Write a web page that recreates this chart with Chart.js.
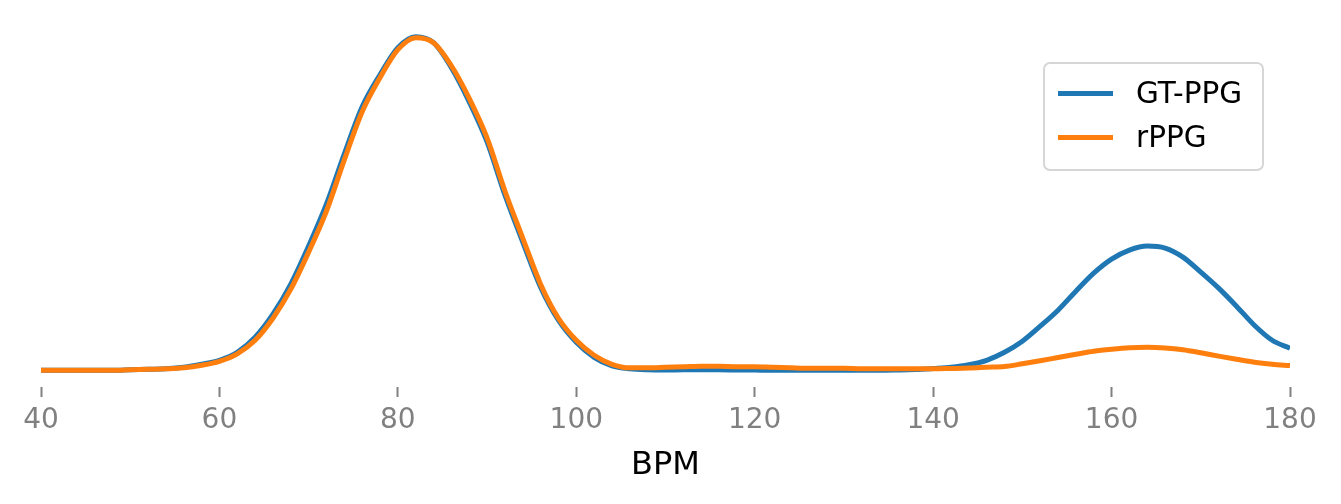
<!DOCTYPE html>
<html>
<head>
<meta charset="utf-8">
<script src="https://cdn.jsdelivr.net/npm/chart.js@4.4.1/dist/chart.umd.min.js"></script>
<style>
  html, body { margin: 0; padding: 0; background: #ffffff; }
  #wrap { position: relative; width: 1341px; height: 504px; }
  #legend {
    position: absolute; left: 1043px; top: 62px; width: 217px; height: 105px;
    border: 2px solid #d6d6d6; border-radius: 7px; background: rgba(255,255,255,0.8);
    font-family: 'DejaVu Sans', sans-serif; font-size: 29.5px; color: #000;
  }
  .sw { position: absolute; left: 13px; width: 55px; height: 5px; }
  .lb { position: absolute; left: 91px; line-height: 34px; white-space: nowrap; }
</style>
</head>
<body>
<div id="wrap">
  <canvas id="c" width="1341" height="504"></canvas>
  <div id="legend">
    <div class="sw" style="top:27px;background:#1f77b4"></div>
    <div class="lb" style="top:12px">GT-PPG</div>
    <div class="sw" style="top:71px;background:#ff7f0e"></div>
    <div class="lb" style="top:56px">rPPG</div>
  </div>
</div>
<script>
// BPM grid (x values) shared by both density curves
const bpm = [40,42,44,46,48,50,52,54,56,58,60,62,64,66,68,70,72,74,76,78,80,82,84,86,88,90,
             92,94,96,98,100,102,104,106,108,110,112,114,116,118,120,122,124,126,128,130,
             132,134,136,138,140,142,144,146,148,150,152,154,156,158,160,162,164,166,168,170,
             172,174,176,178,180];

// Density estimates (arbitrary units)
const gtPPG = [0,0,0,0,0,0.5,1,1.5,3,6,10,18,33,56,86,124,166,216,263,295,322,333,327,302,268,228,
               175,128,83,50,28,13,4.5,1.5,0.5,0.3,0.5,0.5,0.5,0.3,0.2,0,0,0,0,0,
               0,0,0.3,0.8,1.8,3,5.5,10,18,29,44,60,79,97,111,120,124,122,113,98,
               82,64,45,30,22];

const rPPG  = [0,0,0,0,0,0.5,1,1.5,2.5,5,9,16.5,30,52,81,118,159,210,258,292,320,332,327,304,271.5,232,
               179,132,86,52,30,15,6,2.5,2.5,3,3.5,4,4,3.5,3.5,3,2.5,2,2,2,
               1.5,1.5,1.5,1.5,1.5,1.8,2.2,3,3.8,6.5,9.5,12.8,16,19,21,22.5,23,22.3,20.5,17.5,
               14.2,11,8,6,4.7];

const xTicks = [40,60,80,100,120,140,160,180];
const seriesNames = ['GT-PPG', 'rPPG'];

const toPts = (ys) => bpm.map((x, i) => ({ x: x, y: ys[i] }));

Chart.defaults.font.family = "'DejaVu Sans', sans-serif";

new Chart(document.getElementById('c'), {
  type: 'line',
  data: {
    datasets: [
      { label: seriesNames[0], data: toPts(gtPPG), borderColor: '#1f77b4', borderWidth: 5,
        pointRadius: 0, cubicInterpolationMode: 'monotone', fill: false, order: 1 },
      { label: seriesNames[1], data: toPts(rPPG), borderColor: '#ff7f0e', borderWidth: 5,
        pointRadius: 0, cubicInterpolationMode: 'monotone', fill: false, order: 0 }
    ]
  },
  options: {
    responsive: false,
    animation: false,
    layout: { padding: { left: 41, right: 51, top: 20, bottom: 19 } },
    plugins: { legend: { display: false }, tooltip: { enabled: false } },
    scales: {
      x: {
        type: 'linear', min: 40, max: 180,
        afterBuildTicks: (s) => { s.ticks = xTicks.map(v => ({ value: v })); },
        border: { display: false },
        grid: { display: true, drawOnChartArea: false, drawTicks: true, tickLength: 10,
                tickColor: '#808080', tickWidth: 2 },
        ticks: { font: { size: 28 }, color: '#808080', padding: 7, maxRotation: 0, autoSkip: false },
        title: { display: true, text: 'BPM', color: '#000000', font: { size: 32 },
                 padding: { top: 2, bottom: 0 } }
      },
      y: { display: false, min: -16.65, max: 349.65 }
    }
  }
});
</script>
</body>
</html>
